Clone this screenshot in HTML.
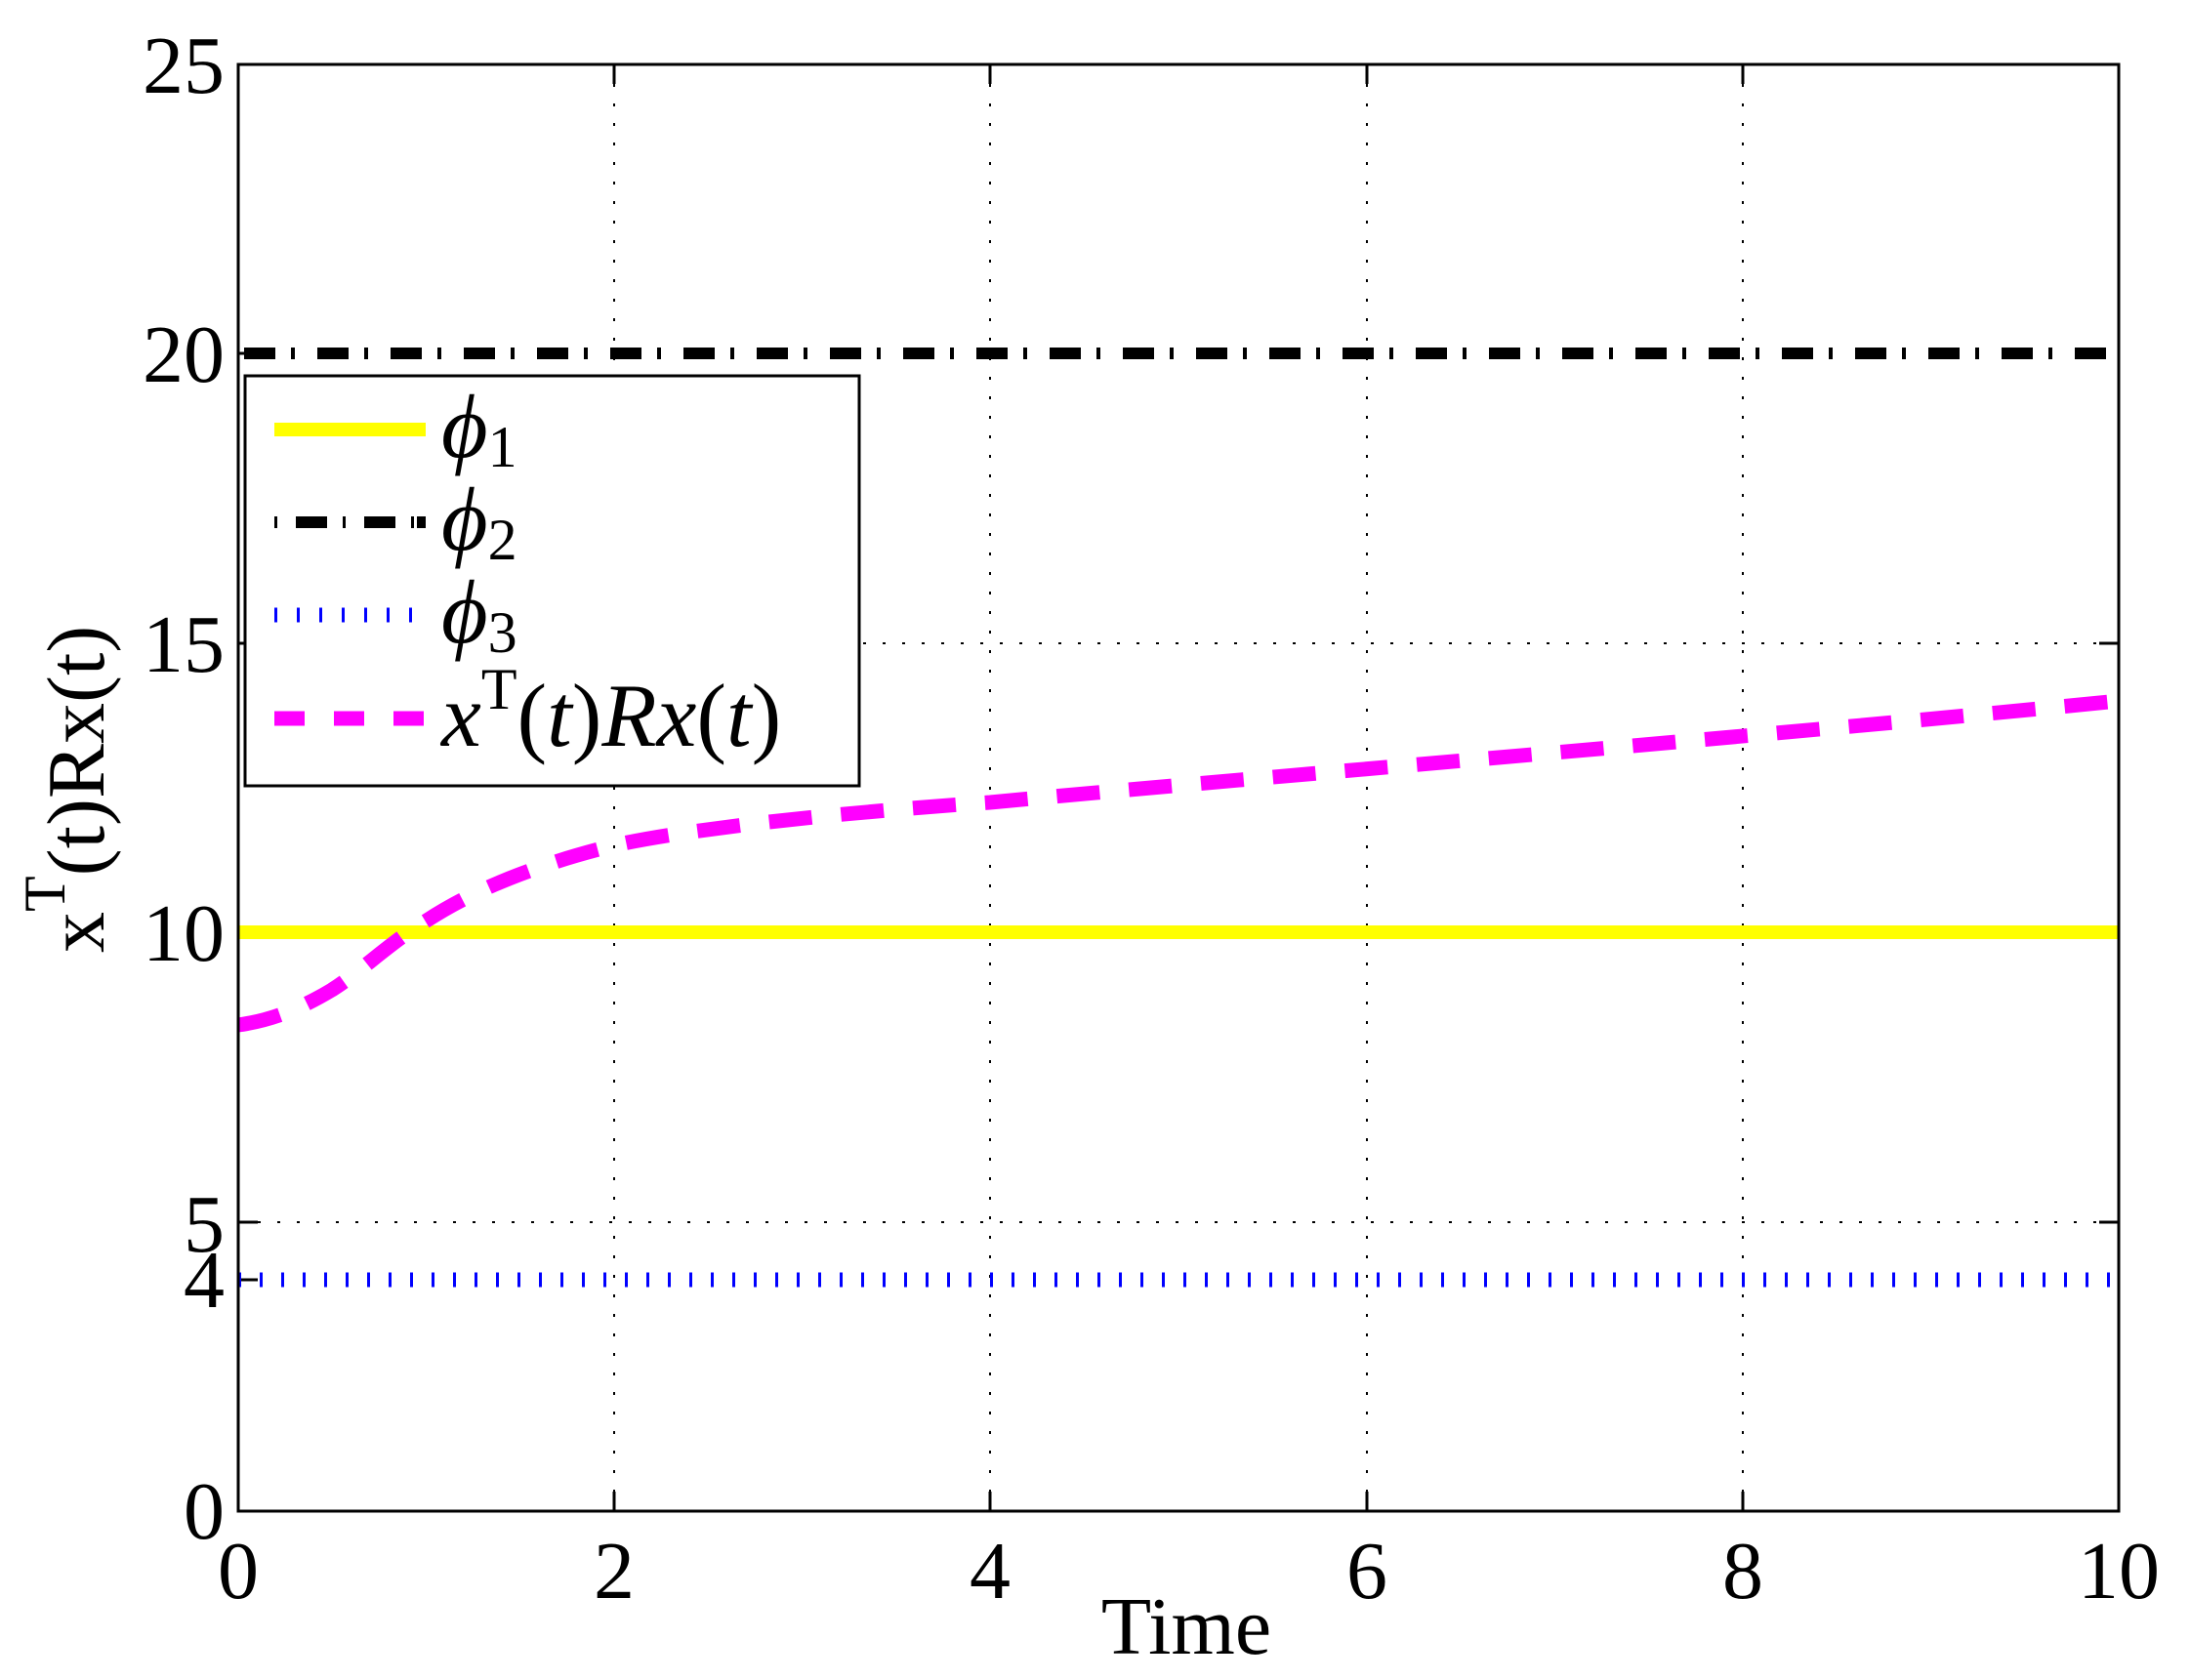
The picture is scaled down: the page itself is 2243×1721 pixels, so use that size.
<!DOCTYPE html>
<html><head><meta charset="utf-8"><style>body{margin:0;background:#fff}svg{display:block}</style></head>
<body>
<svg width="2243" height="1721" viewBox="0 0 2243 1721" xmlns="http://www.w3.org/2000/svg" font-family="Liberation Serif, serif">
<rect width="2243" height="1721" fill="#fff"/>
<g stroke="#000" stroke-width="2" stroke-dasharray="3 17" fill="none">
<line x1="629" y1="66" x2="629" y2="1548"/>
<line x1="1014" y1="66" x2="1014" y2="1548"/>
<line x1="1400" y1="66" x2="1400" y2="1548"/>
<line x1="1785" y1="66" x2="1785" y2="1548"/>
<line x1="244" y1="1252" x2="2170" y2="1252"/>
<line x1="244" y1="955" x2="2170" y2="955"/>
<line x1="244" y1="659" x2="2170" y2="659"/>
</g>
<g stroke="#000" stroke-width="3">
<line x1="629" y1="1548" x2="629" y2="1528"/><line x1="1014" y1="1548" x2="1014" y2="1528"/>
<line x1="1400" y1="1548" x2="1400" y2="1528"/><line x1="1785" y1="1548" x2="1785" y2="1528"/>
<line x1="629" y1="66" x2="629" y2="86"/><line x1="1014" y1="66" x2="1014" y2="86"/>
<line x1="1400" y1="66" x2="1400" y2="86"/><line x1="1785" y1="66" x2="1785" y2="86"/>
<line x1="244" y1="1311" x2="264" y2="1311"/><line x1="244" y1="1252" x2="264" y2="1252"/>
<line x1="244" y1="955" x2="264" y2="955"/><line x1="244" y1="659" x2="264" y2="659"/>
<line x1="244" y1="362" x2="264" y2="362"/>
<line x1="2170" y1="1252" x2="2150" y2="1252"/><line x1="2170" y1="659" x2="2150" y2="659"/>
</g>
<line x1="244" y1="1311" x2="2170" y2="1311" stroke="#0000ff" stroke-width="15" stroke-dasharray="3 19"/>
<line x1="244" y1="955" x2="2170" y2="955" stroke="#ffff00" stroke-width="14"/>
<line x1="250" y1="362" x2="2170" y2="362" stroke="#000" stroke-width="12" stroke-dasharray="32 16 4 23"/>
<path fill="none" stroke="#ff00ff" stroke-width="15" stroke-dasharray="44 30" d="M244,1050 C280,1045 310,1032 340,1014 C370,995 400,965 437,943 C480,915 540,888 629,866 C700,850 850,833 1014,822 C1300,795 1800,755 2170,718"/>
<rect x="244" y="66" width="1926" height="1482" fill="none" stroke="#000" stroke-width="3"/>
<rect x="251" y="385" width="629" height="420" fill="#fff" stroke="#000" stroke-width="3"/>
<line x1="281" y1="440" x2="436" y2="440" stroke="#ffff00" stroke-width="14"/>
<line x1="281" y1="535" x2="436" y2="535" stroke="#000" stroke-width="12" stroke-dasharray="3 19 32 16 3 19 32 16 3"/>
<line x1="281" y1="630" x2="436" y2="630" stroke="#0000ff" stroke-width="15" stroke-dasharray="3 20"/>
<line x1="281" y1="736" x2="436" y2="736" stroke="#ff00ff" stroke-width="15" stroke-dasharray="31 30"/>
<g font-size="92" font-style="italic">
<text x="452" y="468">ϕ<tspan font-style="normal" font-size="60" dy="10">1</tspan></text>
<text x="452" y="563">ϕ<tspan font-style="normal" font-size="60" dy="10">2</tspan></text>
<text x="452" y="658">ϕ<tspan font-style="normal" font-size="60" dy="10">3</tspan></text>
<text x="452" y="764">x<tspan font-style="normal" font-size="60" dy="-38">T</tspan><tspan font-style="normal" dy="38">(</tspan>t<tspan font-style="normal">)</tspan>Rx<tspan font-style="normal">(</tspan>t<tspan font-style="normal">)</tspan></text>
</g>
<g font-size="84" text-anchor="end">
<text x="230" y="1576">0</text><text x="230" y="1339">4</text><text x="230" y="1282">5</text>
<text x="230" y="984">10</text><text x="230" y="688">15</text><text x="230" y="391">20</text><text x="230" y="95">25</text>
</g>
<g font-size="84" text-anchor="middle">
<text x="244" y="1637">0</text><text x="629" y="1637">2</text><text x="1014" y="1637">4</text>
<text x="1400" y="1637">6</text><text x="1785" y="1637">8</text><text x="2170" y="1637">10</text>
<text x="1215" y="1694">Time</text>
</g>
<text transform="translate(106,976) rotate(-90)" font-size="84">x<tspan font-size="60" dy="-40">T</tspan><tspan dy="40">(t)Rx(t)</tspan></text>
</svg>
</body></html>
